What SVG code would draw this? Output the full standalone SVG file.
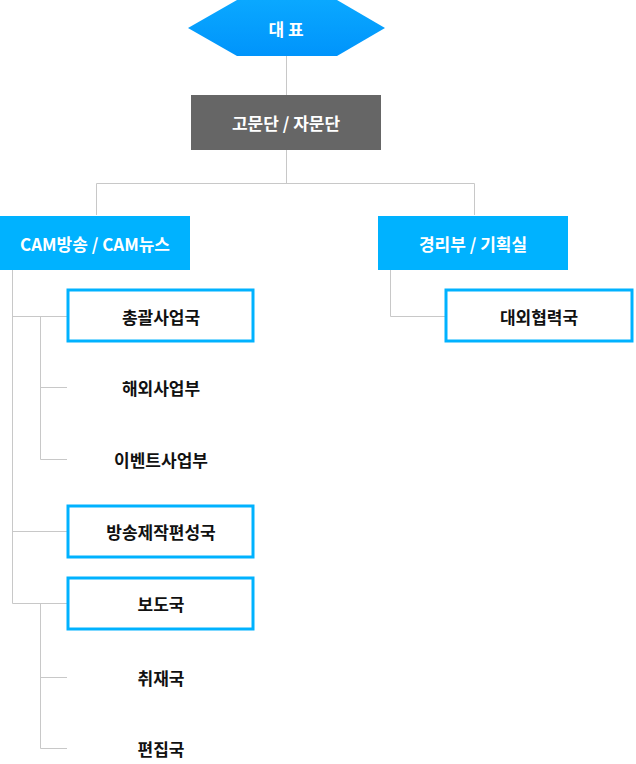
<svg xmlns="http://www.w3.org/2000/svg" width="636" height="764" viewBox="0 0 636 764">
<defs>
<linearGradient id="hg" x1="0" y1="0" x2="0" y2="1"><stop offset="0" stop-color="#0aa8ff"/><stop offset="1" stop-color="#0094fb"/></linearGradient>
<style>
text{font-family:"Noto Sans CJK KR","Noto Sans",sans-serif;font-weight:bold;font-size:17px;text-anchor:middle;dominant-baseline:central}
.w{fill:#fff}.k{fill:#111}
.blue{fill:#00b2ff}
.ob{fill:#fff;stroke:#00b2ff;stroke-width:3}
.c{fill:none;stroke:#c8c8c8;stroke-width:1}
</style>
</defs>
<g id="connectors" class="c">
<path d="M286.5 56V95M286.5 150V183.5M96.5 215V183.5H474.5V215"/>
<path d="M12.5 270V603.5H67M12.5 316.5H67M12.5 531.5H67"/>
<path d="M40.5 316.5V459.5H67M40.5 387.5H67"/>
<path d="M40.5 603.5V748.5H67M40.5 677.5H67"/>
<path d="M390.5 270V316.5H445"/>
</g>
<g id="ceo"><polygon points="188,28 237,0 337,0 385,28 337,56 237,56" fill="url(#hg)"/><text class="w" x="286" y="28">대 표</text></g>
<g id="advisory"><rect x="191" y="95" width="190" height="55" fill="#666"/><text class="w" x="286" y="122">고문단 / 자문단</text></g>
<g id="cam"><rect class="blue" x="0" y="216" width="190" height="54"/><text class="w" x="95" y="243">CAM방송 / CAM뉴스</text></g>
<g id="mgmt"><rect class="blue" x="378" y="216" width="190" height="54"/><text class="w" x="473" y="243">경리부 / 기획실</text></g>
<g id="ext"><rect class="ob" x="446" y="290" width="186" height="51"/><text class="k" x="539" y="316">대외협력국</text></g>
<g id="general"><rect class="ob" x="68" y="290" width="185" height="51"/><text class="k" x="161" y="316">총괄사업국</text></g>
<g id="overseas"><text class="k" x="161" y="387">해외사업부</text></g>
<g id="event"><text class="k" x="161" y="459">이벤트사업부</text></g>
<g id="broadcast"><rect class="ob" x="68" y="506" width="185" height="51"/><text class="k" x="161" y="531">방송제작편성국</text></g>
<g id="news"><rect class="ob" x="68" y="578" width="185" height="51"/><text class="k" x="161" y="603">보도국</text></g>
<g id="report"><text class="k" x="161" y="677">취재국</text></g>
<g id="edit"><text class="k" x="161" y="748">편집국</text></g>
</svg>
